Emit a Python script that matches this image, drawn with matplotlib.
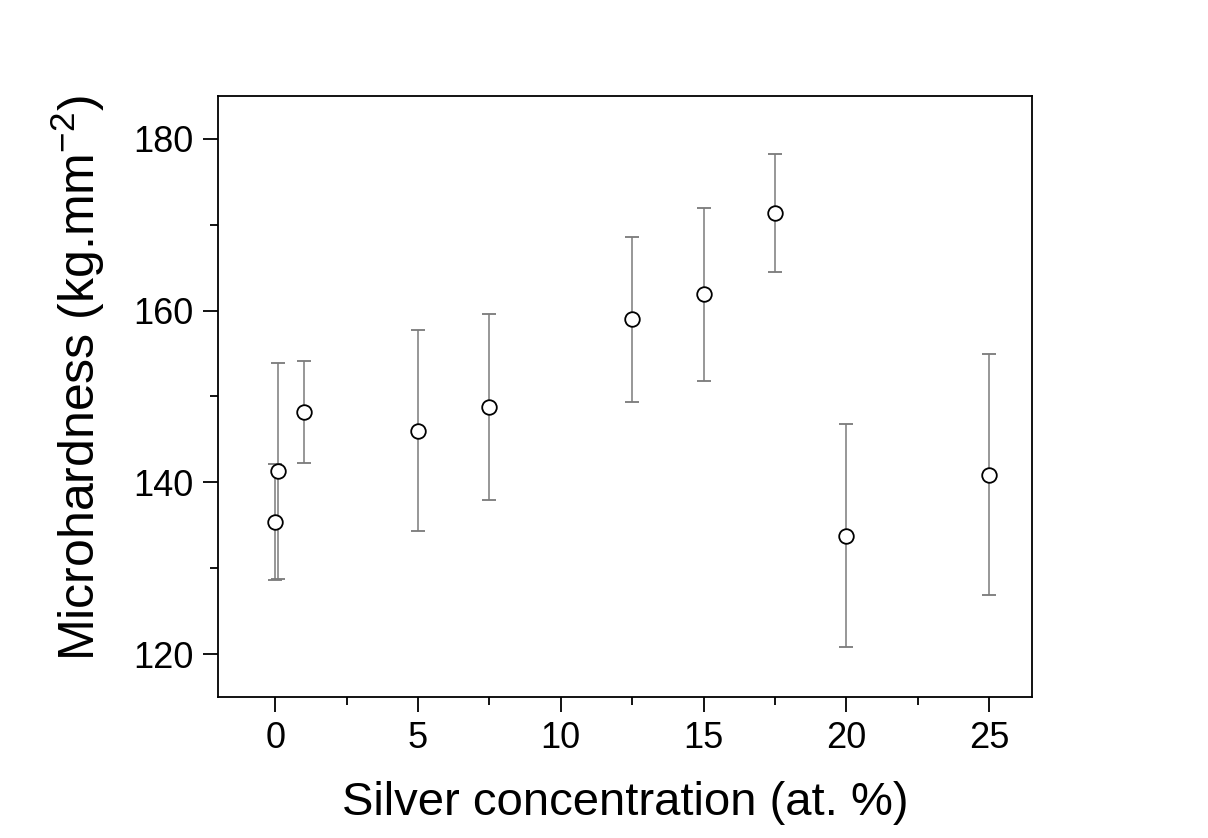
import matplotlib
matplotlib.use("Agg")
import matplotlib.pyplot as plt
from matplotlib.ticker import MultipleLocator

plt.rcParams['font.family'] = ['Liberation Sans', 'DejaVu Sans']
plt.rcParams['mathtext.fontset'] = 'custom'
plt.rcParams['mathtext.rm'] = 'Liberation Sans'

# silver content (at. %) and measured microhardness with error
ag_conc = [0, 0.1, 1, 5, 7.5, 12.5, 15, 17.5, 20, 25]
hardness = [135.4, 141.3, 148.2, 146.0, 148.8, 159.0, 161.9, 171.4, 133.8, 140.9]
hard_err = [6.75, 12.6, 5.9, 11.7, 10.8, 9.6, 10.1, 6.85, 13.0, 14.0]

fig = plt.figure(figsize=(12.08, 8.38), dpi=100)
ax = fig.add_axes([0.1805, 0.1683, 0.6738, 0.7171])

ax.errorbar(ag_conc, hardness, yerr=hard_err, fmt='o', mfc='white', mec='black',
            mew=1.3, ms=10.5, ecolor='#7a7a7a', elinewidth=1.1, capsize=5, capthick=1.1)

ax.set_xlim(-2, 26.5)
ax.set_ylim(115, 185)
ax.xaxis.set_major_locator(MultipleLocator(5))
ax.xaxis.set_minor_locator(MultipleLocator(2.5))
ax.yaxis.set_major_locator(MultipleLocator(20))
ax.yaxis.set_minor_locator(MultipleLocator(10))

ax.tick_params(which='both', direction='out', width=1.3, labelsize=26,
               top=False, right=False)
ax.tick_params(which='major', length=10.5, pad=7)
ax.tick_params(which='minor', length=6)
for s in ax.spines.values():
    s.set_linewidth(1.3)

ax.set_xlabel('Silver concentration (at. %)', fontsize=34, labelpad=18)
ax.set_ylabel('Microhardness (kg.mm$^{\\mathrm{-2}}$)', fontsize=36)
ax.yaxis.set_label_coords(-0.137, 0.53)

fig.savefig('out.png', dpi=100)
